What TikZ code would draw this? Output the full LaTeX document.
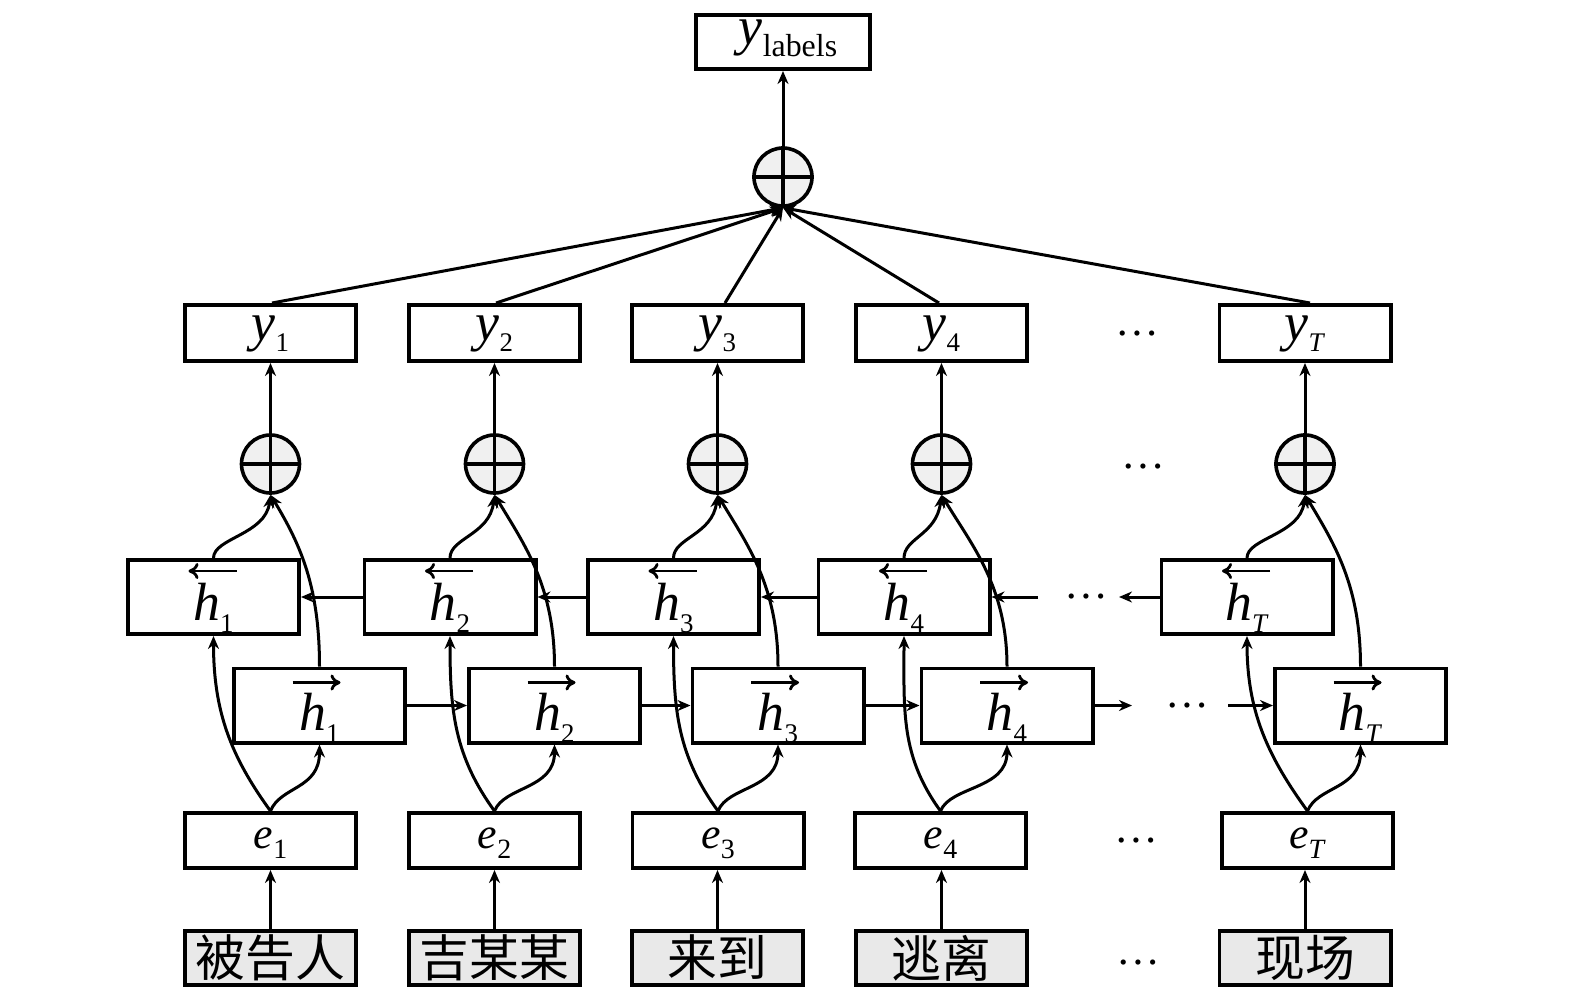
\documentclass[tikz,border=0pt]{standalone}
\usepackage{fontspec}
\setmainfont{Liberation Serif}
\newfontfamily\cjk{Noto Sans CJK SC}
\usetikzlibrary{arrows.meta,calc}
\newcommand\mysub[4]{\textit{#1}\raisebox{#3}{\fontsize{#4}{#4}\selectfont #2}}
\begin{document}
\begin{tikzpicture}[x=0.5bp,y=-0.5bp,
  box/.style={draw, line width=1.8bp, minimum width=85.7bp, minimum height=28.2bp, inner sep=0pt, fill=white},
  ybox/.style={box, font=\fontsize{27}{30}\selectfont, text height=12bp, text depth=5bp},
  hbox/.style={box, minimum height=37.2bp, font=\fontsize{27}{30}\selectfont, text height=23bp, text depth=0bp},
  fbox/.style={hbox, text height=24.5bp},
  ebox/.style={box, minimum height=27.7bp, font=\fontsize{22}{26}\selectfont, text height=12.5bp, text depth=5bp},
  wbox/.style={box, minimum height=27.2bp, fill=gray!17, font=\cjk\fontsize{25}{28}\selectfont},
  opl/.style={circle, draw, line width=1.8bp, fill=gray!12, minimum size=29bp, inner sep=0pt},
  cross/.style={line width=1.8bp},
  arr/.style={line width=1.5bp, -{Stealth[length=6.5bp,width=5.5bp]}},
  harr/.style={line width=1.4bp, -{To[length=5bp,width=8bp]}},
  dots/.style={font=\fontsize{22}{24}\selectfont, inner sep=0pt}]
\useasboundingbox (0,0) rectangle (1575,994);

% top
\node[box, minimum width=87.2bp, minimum height=27.2bp, font=\fontsize{27}{30}\selectfont, text height=8.5bp, text depth=6.5bp] (ylab) at (783,42) {\hspace{5bp}\mysub{y}{labels}{-6bp}{16}};
\node[opl] (top) at (783,177) {};
\draw[cross] (top.north) -- (top.south) (top.west) -- (top.east);
\draw[arr] (top.north) -- (ylab.south);

\foreach \n/\s/\w/\cy/\cb/\cf/\ce/\fx in {
  1/1/被告人/270.5/213.5/319.5/270.5/1.5,
  2/2/吉某某/494.5/450/554.5/494.5/1.5,
  3/3/来到/717.5/673.5/778/718/7.5,
  4/4/逃离/941.5/904/1007/940.5/-2.5,
  T/\textit{T}/现场/1305/1247/1360.5/1307.5/5}{
  \node[ybox] (y\n) at (\cy,333) {\mysub{y}{\s}{-5.5bp}{13.5}};
  \node[opl] (op\n) at (\cy,464) {};
  \draw[cross] (op\n.north) -- (op\n.south) (op\n.west) -- (op\n.east);
  \node[hbox] (hb\n) at (\cb,597) {\mysub{h}{\s}{-6bp}{13.5}};
  \node[fbox] (hf\n) at (\cf,705.5) {\mysub{h}{\s}{-6bp}{13.5}};
  \draw[harr] ($(hb\n.center)+(23,-26)$) -- ++(-48,0);
  \draw[harr] ($(hf\n.center)+(-27,-23)$) -- ++(48,0);
  \node[ebox] (e\n) at (\ce,840.5) {\mysub{e}{\s}{-5bp}{14}};
  \node[wbox] (w\n) at (\cy,958) {\w};
  \draw[arr] (w\n.north) -- (w\n.north |- e\n.south);
  \draw[arr] (e\n.north) .. controls +(-40,-55) and +(0,75) .. (hb\n.south);
  \draw[arr] (e\n.north) .. controls +(10,-25) and +(0,45) .. (hf\n.south);
  \draw[arr] (hb\n.north) .. controls +(0,-20) and +(-5,40) .. (op\n.south);
  \draw[arr] (hf\n.north) .. controls +(0,-80) and +(30,50) .. (op\n.south);
  \draw[arr] (op\n.north) -- (op\n.north |- y\n.south);
  \draw[arr] ($(y\n.north)+(\fx,0)$) -- (top.south);
}

% backward chain
\draw[arr] (hb2.west) -- (hb1.east);
\draw[arr] (hb3.west) -- (hb2.east);
\draw[arr] (hb4.west) -- (hb3.east);
\coordinate (bl) at (1038,597);
\coordinate (br) at (1119,597);
\draw[arr] (bl) -- (hb4.east);
\draw[arr] (hbT.west) -- (br);

% forward chain
\draw[arr] (hf1.east) -- (hf2.west);
\draw[arr] (hf2.east) -- (hf3.west);
\draw[arr] (hf3.east) -- (hf4.west);
\coordinate (fl) at (1132,705.5);
\coordinate (fr) at (1228,705.5);
\draw[arr] (hf4.east) -- (fl);
\draw[arr] (fr) -- (hfT.west);

% ellipses
\node[dots] (d1) at (1137,334) {…};
\node[dots] (d2) at (1143.5,467) {…};
\node[dots] (d3) at (1086,597) {…};
\node[dots] (d4) at (1187.5,706) {…};
\node[dots] (d5) at (1136.5,841) {…};
\node[dots] (d6) at (1138,963) {…};
\end{tikzpicture}
\end{document}
